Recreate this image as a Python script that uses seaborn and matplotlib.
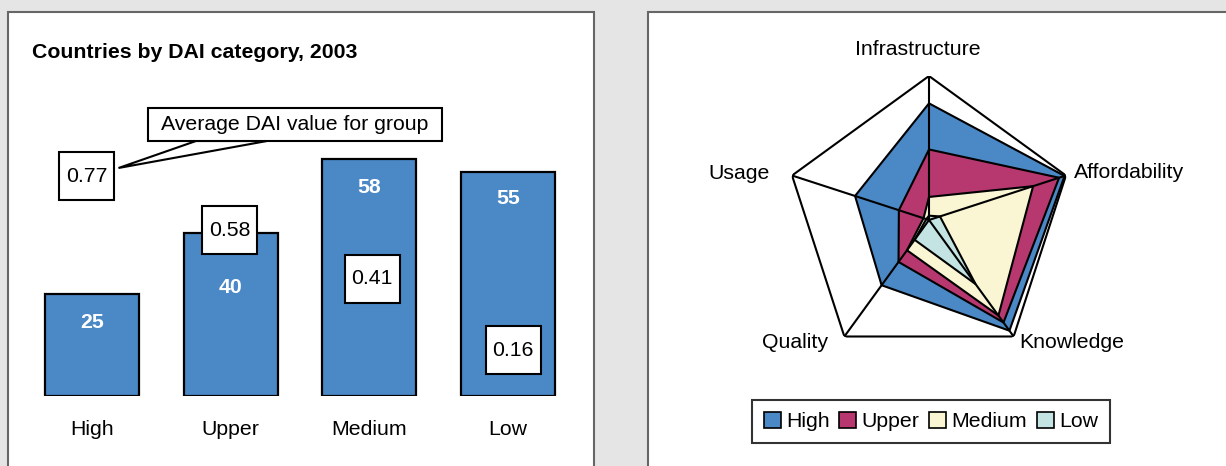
import numpy as np
import pandas as pd
import matplotlib
matplotlib.use("Agg")
import matplotlib.pyplot as plt
from matplotlib.patches import Rectangle, Polygon, Patch
import seaborn as sns

# ---- data ----
groups = ["High", "Upper", "Medium", "Low"]
country_counts = [25, 40, 58, 55]
avg_dai = [0.77, 0.58, 0.41, 0.16]

dimensions = ["Infrastructure", "Affordability", "Knowledge", "Quality", "Usage"]
radar_high = [0.81, 0.99, 0.95, 0.56, 0.54]
radar_upper = [0.49, 0.95, 0.88, 0.36, 0.22]
radar_medium = [0.16, 0.76, 0.82, 0.26, 0.04]
radar_low = [0.03, 0.08, 0.55, 0.17, 0.02]

# ---- style ----
sns.set_theme(style="white")
plt.rcParams["font.family"] = ["Liberation Sans", "DejaVu Sans"]
plt.rcParams["text.color"] = "black"
plt.rcParams["xtick.color"] = "black"
plt.rcParams["xtick.labelcolor"] = "black"

BLUE = "#4a88c6"
MAGENTA = "#b6386f"
CREAM = "#faf5d3"
CYAN = "#c3e4e3"
BG = "#e5e5e5"
FS = 15.3

W, H = 1226, 466
fig = plt.figure(figsize=(W / 100, H / 100), dpi=100)
fig.patch.set_facecolor(BG)


def fx(px):
    return px / W


def fy(py):
    return 1 - py / H


# white panels
for x0, x1 in [(8, 594), (648, 1240)]:
    fig.add_artist(Rectangle((fx(x0), fy(480)), fx(x1 - x0), (480 - 12) / H,
                             transform=fig.transFigure, facecolor="white",
                             edgecolor="#666666", linewidth=1.5, zorder=0))

fig.text(fx(32), fy(52), "Countries by DAI category, 2003", fontsize=FS,
         fontweight="bold", ha="left", va="center")

# ---- bar chart ----
AX_W, AX_H = 554, 326.4
ax = fig.add_axes([fx(23), 70 / H, AX_W / W, AX_H / H])
ax.set_facecolor("none")
df = pd.DataFrame({"group": groups, "count": country_counts, "dai": avg_dai})
sns.barplot(data=df, x="group", y="count", color=BLUE, saturation=1,
            edgecolor="black", linewidth=1.6, width=0.68, ax=ax)
ax.set_xlim(-0.5, 3.5)
ax.set_ylim(0, 80)
ax.set_xlabel("")
ax.set_ylabel("")
ax.set_yticks([])
ax.tick_params(axis="x", length=0, pad=17, labelsize=FS)
for s in ax.spines.values():
    s.set_visible(False)

# count labels inside bars
label_drop = [29, 55, 28, 27]
for i, (c, d) in enumerate(zip(country_counts, label_drop)):
    ax.annotate(str(c), xy=(i, c), xytext=(0, -d * 0.72), textcoords="offset points",
                ha="center", va="center", color="white", fontweight="bold",
                fontsize=FS)

# average DAI boxes on their own scale (1.0 DAI = 70 bar units)
ax2 = ax.twinx()
dai_top = 80 / 70
ax2.set_ylim(0, dai_top)
ax2.axis("off")
box_w = 55 / AX_W * 4          # box size in data units
box_h = 48 / AX_H * dai_top
box_shift = [-0.04, -0.01, 0.02, 0.04]
for i, (v, s) in enumerate(zip(avg_dai, box_shift)):
    ax2.add_patch(Rectangle((i + s - box_w / 2, v - box_h / 2), box_w, box_h,
                            facecolor="white", edgecolor="black", linewidth=1.5,
                            zorder=4))
    ax2.text(i + s, v, f"{v:.2f}", ha="center", va="center", fontsize=FS, zorder=5)

# callout
fig.add_artist(Polygon([(fx(196), fy(141)), (fx(267), fy(141)), (fx(118.5), fy(168))],
                       closed=True, transform=fig.transFigure, facecolor="white",
                       edgecolor="black", linewidth=1.5, zorder=6))
fig.add_artist(Rectangle((fx(148), fy(141)), fx(294), 33 / H,
                         transform=fig.transFigure, facecolor="white",
                         edgecolor="black", linewidth=1.5, zorder=7))
fig.text(fx(295), fy(125), "Average DAI value for group", fontsize=FS,
         ha="center", va="center", zorder=8)

# ---- radar chart ----
R = 144
pax = fig.add_axes([fx(929 - R), (H - 220 - R) / H, 2 * R / W, 2 * R / H],
                   projection="polar")
pax.set_theta_offset(np.pi / 2)
pax.set_theta_direction(-1)
pax.set_ylim(0, 1)
pax.grid(False)
pax.set_xticks([])
pax.set_yticks([])
pax.spines["polar"].set_visible(False)
pax.set_facecolor("none")

theta = np.linspace(0, 2 * np.pi, len(dimensions), endpoint=False)
theta_c = np.append(theta, theta[0])

series = [("High", radar_high, BLUE), ("Upper", radar_upper, MAGENTA),
          ("Medium", radar_medium, CREAM), ("Low", radar_low, CYAN)]
for k, (name, vals, col) in enumerate(series):
    r = np.append(vals, vals[0])
    pax.fill(theta_c, r, facecolor=col, edgecolor="black", linewidth=1.5,
             zorder=2 + k)

# frame and spokes
pax.plot(theta_c, np.ones_like(theta_c), color="black", linewidth=1.5, zorder=10)
for t in theta:
    pax.plot([t, t], [0, 1], color="black", linewidth=1.5, zorder=10)

label_pos = [((-8, 19), "center"), ((6, 2), "left"), ((4, -4), "left"),
             ((-12, -4), "right"), ((-16, 1.5), "right")]
for t, name, (off, ha) in zip(theta, dimensions, label_pos):
    pax.annotate(name, xy=(t, 1), xytext=off, textcoords="offset points",
                 ha=ha, va="center", fontsize=FS, annotation_clip=False)

handles = [Patch(facecolor=c, edgecolor="black", linewidth=1.2, label=n)
           for n, _, c in series]
leg = fig.legend(handles=handles, loc="center", bbox_to_anchor=(fx(931), fy(421.5)),
                 ncol=4, fontsize=FS, frameon=True, fancybox=False,
                 handlelength=0.8, handleheight=0.8, handletextpad=0.25,
                 columnspacing=0.45, borderpad=0.55, borderaxespad=0)
leg.get_frame().set_edgecolor("black")
leg.get_frame().set_linewidth(1.5)

fig.savefig("out.png", dpi=100, facecolor=BG)
